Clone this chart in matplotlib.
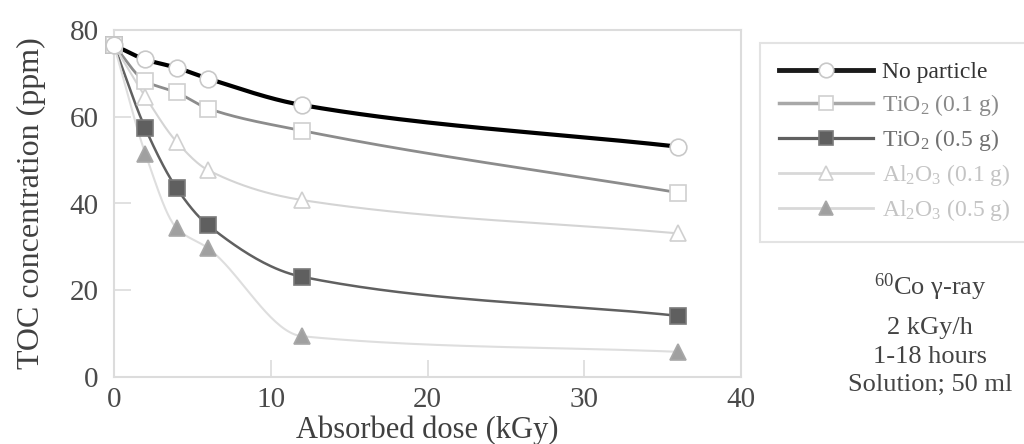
import numpy as np
import matplotlib
matplotlib.use("Agg")
import matplotlib.pyplot as plt
from matplotlib.lines import Line2D

plt.rcParams['font.family'] = ['Liberation Serif', 'DejaVu Serif']
plt.rcParams['mathtext.fontset'] = 'custom'
plt.rcParams['mathtext.rm'] = 'Liberation Serif'
plt.rcParams['mathtext.it'] = 'Liberation Serif:italic'

dose = [0, 2, 4, 6, 12, 36]
no_particle = [76.5, 73.2, 71.3, 68.8, 62.7, 53.1]
tio2_01 = [76.5, 68.2, 65.6, 61.9, 56.8, 42.5]
tio2_05 = [76.5, 57.3, 43.5, 35.0, 23.1, 14.1]
al2o3_01 = [76.5, 64.6, 54.2, 47.7, 40.8, 33.1]
al2o3_05 = [76.5, 51.5, 34.3, 29.7, 9.4, 5.8]

labels = ["No particle", r"TiO$_2$ (0.1 g)", r"TiO$_2$ (0.5 g)",
          r"Al$_2$O$_3$ (0.1 g)", r"Al$_2$O$_3$ (0.5 g)"]


def smooth(x, y, n=40):
    # shape-preserving cubic Hermite rendering of the line through the points
    x = np.asarray(x, float); y = np.asarray(y, float)
    h = np.diff(x); d = np.diff(y) / h
    m = np.zeros_like(y)
    for k in range(1, len(x) - 1):
        if d[k - 1] * d[k] <= 0:
            m[k] = 0
        else:
            w1 = 2 * h[k] + h[k - 1]
            w2 = h[k] + 2 * h[k - 1]
            m[k] = (w1 + w2) / (w1 / d[k - 1] + w2 / d[k])
    m[0] = d[0]
    m[-1] = d[-1]
    xs, ys = [], []
    for k in range(len(x) - 1):
        t = np.linspace(0, 1, n)
        h00 = 2 * t**3 - 3 * t**2 + 1
        h10 = t**3 - 2 * t**2 + t
        h01 = -2 * t**3 + 3 * t**2
        h11 = t**3 - t**2
        yy = h00 * y[k] + h10 * h[k] * m[k] + h01 * y[k + 1] + h11 * h[k] * m[k + 1]
        xx = x[k] + t * h[k]
        if k > 0:
            xx, yy = xx[1:], yy[1:]
        xs.append(xx); ys.append(yy)
    return np.concatenate(xs), np.concatenate(ys)


fig = plt.figure(figsize=(10.24, 4.44), dpi=100)
ax = fig.add_axes([114/1024, 1 - 377/444, (741-114)/1024, (377-30)/444])

styles = [
    dict(lc='#000000', lw=3.0, llc='#1a1a1a', marker='o', mfc='white', mec='#c8c8c8'),
    dict(lc='#8c8c8c', lw=2.0, llc='#a8a8a8', marker='s', mfc='white', mec='#d0d0d0'),
    dict(lc='#606060', lw=1.8, llc='#606060', marker='s', mfc='#5f5f5f', mec='#7a7a7a'),
    dict(lc='#d4d4d4', lw=1.5, llc='#d8d8d8', marker='^', mfc='white', mec='#d0d0d0'),
    dict(lc='#dedede', lw=1.5, llc='#d8d8d8', marker='^', mfc='#a0a0a0', mec='#a8a8a8'),
]
series = [no_particle, tio2_01, tio2_05, al2o3_01, al2o3_05]

for i, (s, st) in enumerate(zip(series, styles)):
    xs, ys = smooth(dose, s)
    ax.plot(xs, ys, color=st['lc'], lw=st['lw'], zorder=2 + i * 0.01, solid_capstyle='butt')
for i, (s, st) in reversed(list(enumerate(zip(series, styles)))):
    ax.plot(dose, s, ls='none', marker=st['marker'], mfc=st['mfc'], mec=st['mec'],
            ms=12, mew=1.2, zorder=5 + (4 - i) * 0.01, clip_on=False)

handles = []
for st, lab in zip(styles, labels):
    handles.append(Line2D([], [], color=st['llc'], lw=st['lw'] + 0.5, marker=st['marker'],
                          mfc=st['mfc'], mec=st['mec'], ms=10.5, mew=1.2, label=lab))

ax.set_xlim(0, 40)
ax.set_ylim(0, 80)
ax.set_xticks([0, 10, 20, 30, 40])
ax.set_yticks([0, 20, 40, 60, 80])
for sp in ax.spines.values():
    sp.set_color('#dcdcdc')
    sp.set_linewidth(1.5)
ax.tick_params(direction='in', length=12, width=1.2, color='#dcdcdc',
               labelsize=21, labelcolor='#4a4a4a')
ax.tick_params(axis='y', pad=11)
ax.tick_params(axis='x', pad=7)
ax.set_xlabel("Absorbed dose (kGy)", fontsize=22, color='#404040', labelpad=2)
ax.set_ylabel("TOC concentration (ppm)", fontsize=23, color='#404040', labelpad=17)

leg = fig.legend(handles=handles, loc='upper left',
                 bbox_to_anchor=(760/1024, 1 - 240/444, 275/1024, 197/444), mode='expand',
                 frameon=True, fancybox=False, fontsize=17, handlelength=4.0,
                 handletextpad=0.35, labelspacing=0.38, borderpad=0.8, borderaxespad=0)
leg.get_frame().set_edgecolor('#dcdcdc')
leg.get_frame().set_linewidth(1.5)
text_cols = ['#333333', '#8a8a8a', '#707070', '#c4c4c4', '#c4c4c4']
for t, c in zip(leg.get_texts(), text_cols):
    t.set_color(c)

ann = [(r"$^{60}$Co γ-ray", 287), ("2 kGy/h", 328), ("1-18 hours", 357), ("Solution; 50 ml", 385)]
for txt, yp in ann:
    fig.text(930/1024, 1 - yp/444, txt, ha='center', va='center', fontsize=19, color='#444444')

fig.savefig("out.png", dpi=100)
